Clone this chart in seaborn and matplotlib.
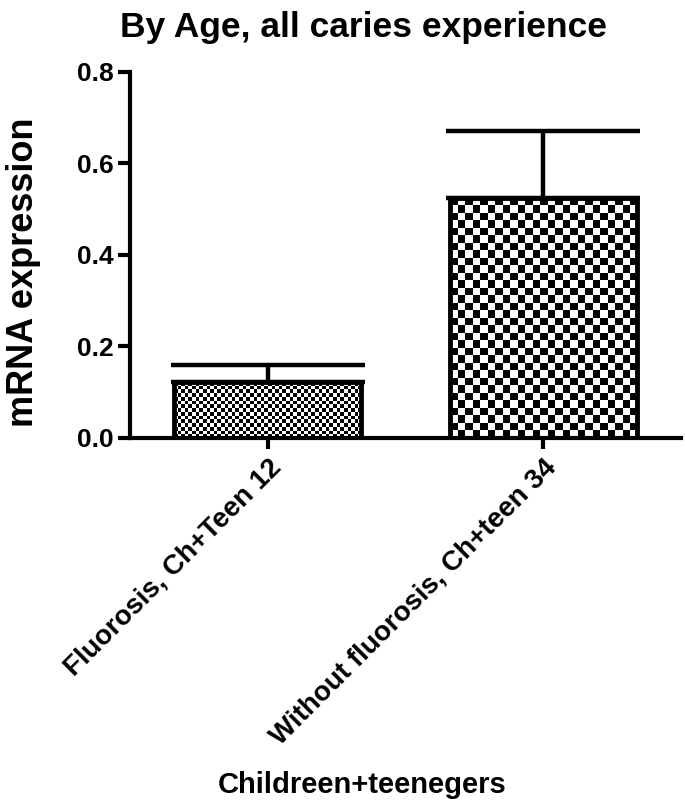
import numpy as np
import pandas as pd
import matplotlib
matplotlib.use("Agg")
import matplotlib.pyplot as plt
import seaborn as sns

# values
groups = ["Fluorosis, Ch+Teen 12", "Without fluorosis, Ch+teen 34"]
means = [0.122, 0.524]
sem = [0.038, 0.147]
cell_px = [3.6, 7.3]  # checker size per bar

df = pd.DataFrame({"group": groups, "mRNA": means})

sns.set_style("ticks")
plt.rcParams["font.family"] = ["Liberation Sans", "DejaVu Sans"]
plt.rcParams["font.weight"] = "bold"
for k in ["text.color", "axes.edgecolor", "axes.labelcolor", "xtick.color", "ytick.color"]:
    plt.rcParams[k] = "black"

fig = plt.figure(figsize=(6.85, 8.09), dpi=100)
ax = fig.add_axes([0.19, 0.4586, 0.804, 0.4525])

sns.barplot(data=df, x="group", y="mRNA", color="white", width=0.68,
            edgecolor="black", linewidth=3.5, ax=ax, zorder=3)

ax.errorbar(range(len(groups)), means, yerr=[[0] * len(means), sem],
            fmt="none", ecolor="black", elinewidth=3.2, capsize=70,
            capthick=3.2, zorder=2)

ax.set_xlim(-0.5, 1.5)
ax.set_ylim(0, 0.8)
ax.set_yticks([0, 0.2, 0.4, 0.6, 0.8])
ax.set_yticklabels(["0.0", "0.2", "0.4", "0.6", "0.8"])

fig.canvas.draw()
# checkerboard fill clipped to each bar
for patch, c in zip(ax.patches, cell_px):
    patch.set_facecolor("none")
    x0, y0 = patch.get_x(), patch.get_y()
    w, h = patch.get_width(), patch.get_height()
    (px0, py0), (px1, py1) = ax.transData.transform([(x0, y0), (x0 + w, y0 + h)])
    nx = max(int((px1 - px0) / c), 1)
    ny = max(int((py1 - py0) / c), 1)
    board = (np.add.outer(np.arange(ny), np.arange(nx)) % 2).astype(float)
    im = ax.imshow(board, cmap="gray", extent=[x0, x0 + w, y0, y0 + h],
                   aspect="auto", interpolation="nearest", zorder=2.5,
                   vmin=0, vmax=1)
    im.set_clip_path(patch)

sns.despine(ax=ax)
for s in ["left", "bottom"]:
    ax.spines[s].set_linewidth(3)
ax.tick_params(axis="y", length=9, width=3, labelsize=19, pad=3)
ax.tick_params(axis="x", length=8, width=3, labelsize=20, pad=4)
for lab in ax.get_xticklabels():
    lab.set_rotation(45)
    lab.set_ha("right")
    lab.set_rotation_mode("anchor")
    lab.set_fontweight("bold")
for lab in ax.get_yticklabels():
    lab.set_fontweight("bold")

ax.set_xlabel("")
ax.set_ylabel("")
fig.text(0.53, 0.987, "By Age, all caries experience", ha="center", va="top",
         fontsize=25.5, fontweight="bold")
fig.text(0.528, 0.012, "Childreen+teenegers", ha="center", va="bottom",
         fontsize=21, fontweight="bold")
fig.text(0.035, 0.664, "mRNA expression", ha="center", va="center",
         rotation=90, fontsize=26, fontweight="bold")

fig.savefig("out.png", dpi=100)
